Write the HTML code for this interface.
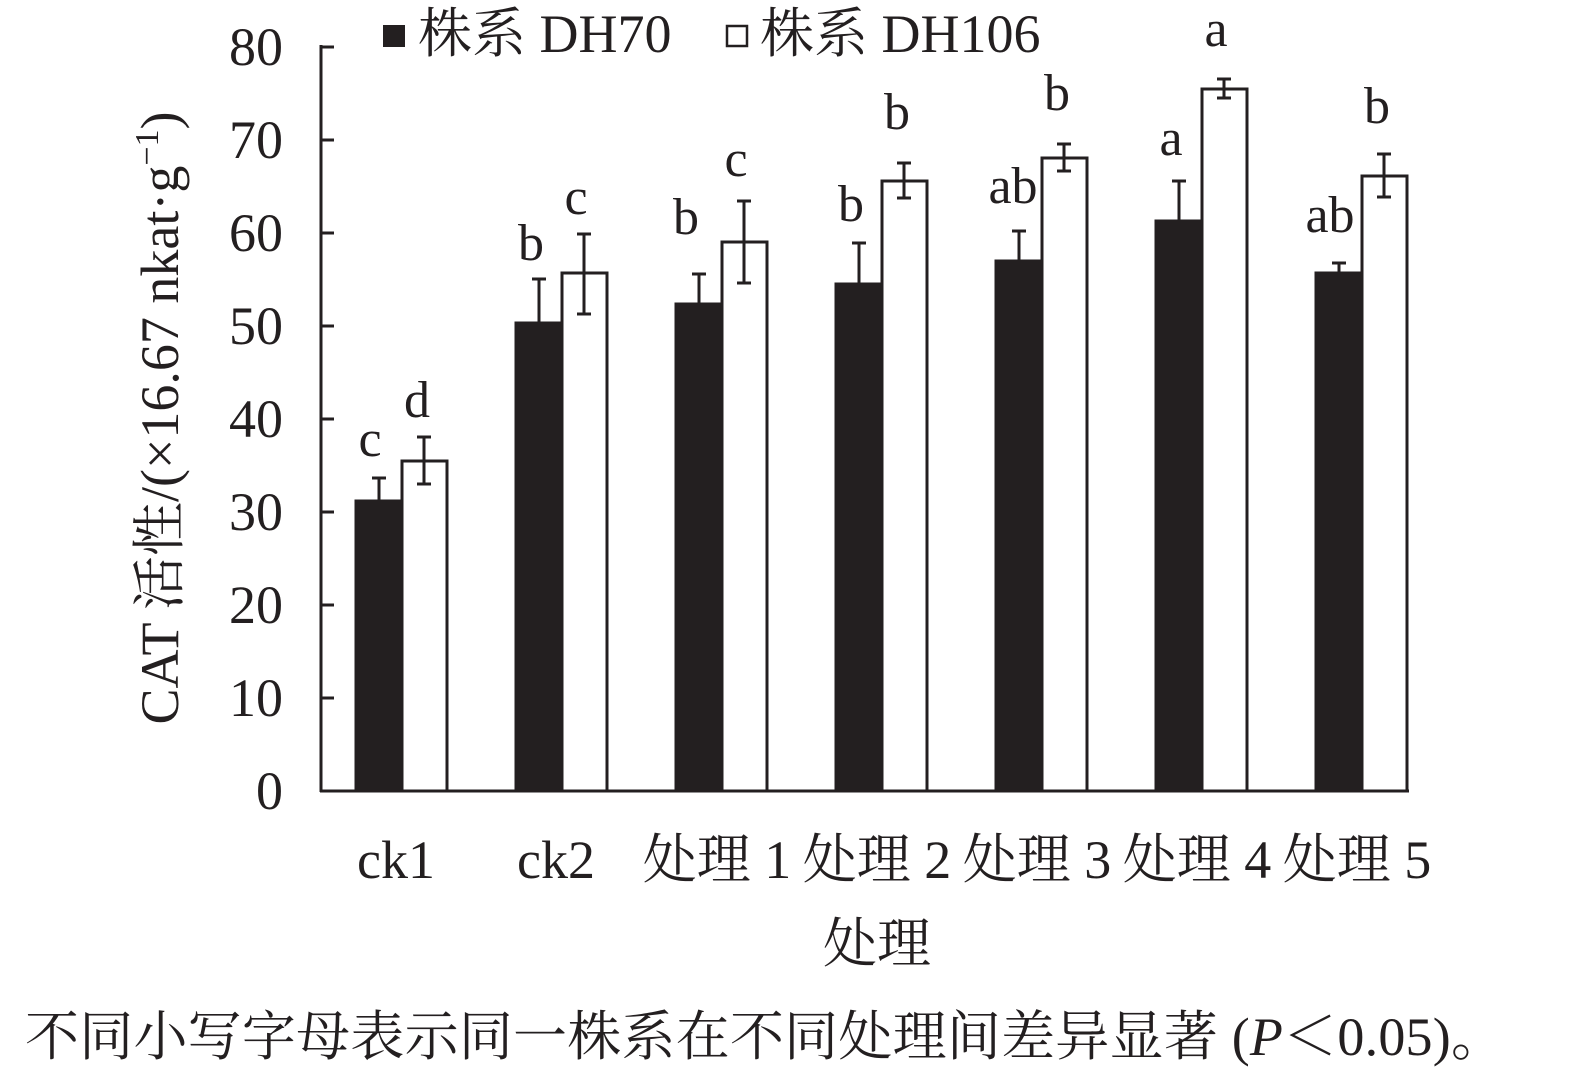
<!DOCTYPE html><html><head><style>body{margin:0;background:#fff}</style></head><body>
<svg width="1575" height="1078" viewBox="0 0 1575 1078" xmlns="http://www.w3.org/2000/svg" font-family="'Liberation Serif','Noto Serif CJK SC',serif" fill="#231f20">
<g stroke="#231f20" stroke-width="3">
<line x1="321" y1="45" x2="321" y2="792"/>
<line x1="320" y1="791" x2="1409" y2="791"/>
<line x1="321" y1="47" x2="334" y2="47"/><line x1="321" y1="140" x2="334" y2="140"/><line x1="321" y1="233" x2="334" y2="233"/><line x1="321" y1="326" x2="334" y2="326"/><line x1="321" y1="419" x2="334" y2="419"/><line x1="321" y1="512" x2="334" y2="512"/><line x1="321" y1="605" x2="334" y2="605"/><line x1="321" y1="698" x2="334" y2="698"/>
</g>
<g font-size="54" text-anchor="end">
<text x="283" y="65">80</text><text x="283" y="158">70</text><text x="283" y="251">60</text><text x="283" y="344">50</text><text x="283" y="437">40</text><text x="283" y="530">30</text><text x="283" y="623">20</text><text x="283" y="716">10</text><text x="283" y="809">0</text>
</g>
<text transform="translate(178,418) rotate(-90)" font-size="54" text-anchor="middle">CAT 活性/(×16.67 nkat·g<tspan dy="-20" font-size="34">−1</tspan><tspan dy="20">)</tspan></text>
<rect x="383" y="25" width="22" height="22"/>
<text x="418" y="52" font-size="54">株系 DH70</text>
<rect x="727" y="26" width="20" height="20" fill="#fff" stroke="#231f20" stroke-width="2.5"/>
<text x="760" y="52" font-size="54">株系 DH106</text>
<g stroke="#231f20" stroke-width="3">
<rect x="356" y="501" width="46" height="290"/>
<rect x="402" y="461" width="45" height="330" fill="#fff"/>
<rect x="516" y="323" width="46" height="468"/>
<rect x="562" y="273" width="45" height="518" fill="#fff"/>
<rect x="676" y="304" width="46" height="487"/>
<rect x="722" y="242" width="45" height="549" fill="#fff"/>
<rect x="836" y="284" width="46" height="507"/>
<rect x="882" y="181" width="45" height="610" fill="#fff"/>
<rect x="996" y="261" width="46" height="530"/>
<rect x="1042" y="158" width="45" height="633" fill="#fff"/>
<rect x="1156" y="221" width="46" height="570"/>
<rect x="1202" y="89" width="45" height="702" fill="#fff"/>
<rect x="1316" y="273" width="46" height="518"/>
<rect x="1362" y="176" width="45" height="615" fill="#fff"/>
</g>
<g stroke="#231f20" stroke-width="3" fill="none">
<path d="M379 478V501M372 478H386"/>
<path d="M424 437V484M417 437H431M417 484H431"/>
<path d="M539 279V323M532 279H546"/>
<path d="M584 234V314M577 234H591M577 314H591"/>
<path d="M699 274V304M692 274H706"/>
<path d="M744 201V283M737 201H751M737 283H751"/>
<path d="M859 243V284M852 243H866"/>
<path d="M904 163V198M897 163H911M897 198H911"/>
<path d="M1019 231V261M1012 231H1026"/>
<path d="M1064 144V171M1057 144H1071M1057 171H1071"/>
<path d="M1179 181V221M1172 181H1186"/>
<path d="M1224 79V98M1217 79H1231M1217 98H1231"/>
<path d="M1339 263V273M1332 263H1346"/>
<path d="M1384 154V197M1377 154H1391M1377 197H1391"/>
</g>
<g font-size="52" text-anchor="middle">
<text x="370" y="456">c</text><text x="417" y="417">d</text>
<text x="531" y="260">b</text><text x="576" y="214">c</text>
<text x="686" y="234">b</text><text x="736" y="176">c</text>
<text x="851" y="221">b</text><text x="897" y="129">b</text>
<text x="1013" y="203">ab</text><text x="1057" y="110">b</text>
<text x="1171" y="155">a</text><text x="1216" y="46">a</text>
<text x="1330" y="232">ab</text><text x="1377" y="123">b</text>
</g>
<g font-size="54" text-anchor="middle">
<text x="396" y="878">ck1</text><text x="556" y="878">ck2</text>
<text x="717" y="878">处理 1</text><text x="877" y="878">处理 2</text><text x="1037" y="878">处理 3</text><text x="1197" y="878">处理 4</text><text x="1357" y="878">处理 5</text>
<text x="877" y="962">处理</text>
</g>
<text x="25" y="1055" font-size="54" textLength="1480" lengthAdjust="spacing">不同小写字母表示同一株系在不同处理间差异显著 (<tspan font-style="italic">P</tspan>＜0.05)。</text>
</svg>
</body></html>
